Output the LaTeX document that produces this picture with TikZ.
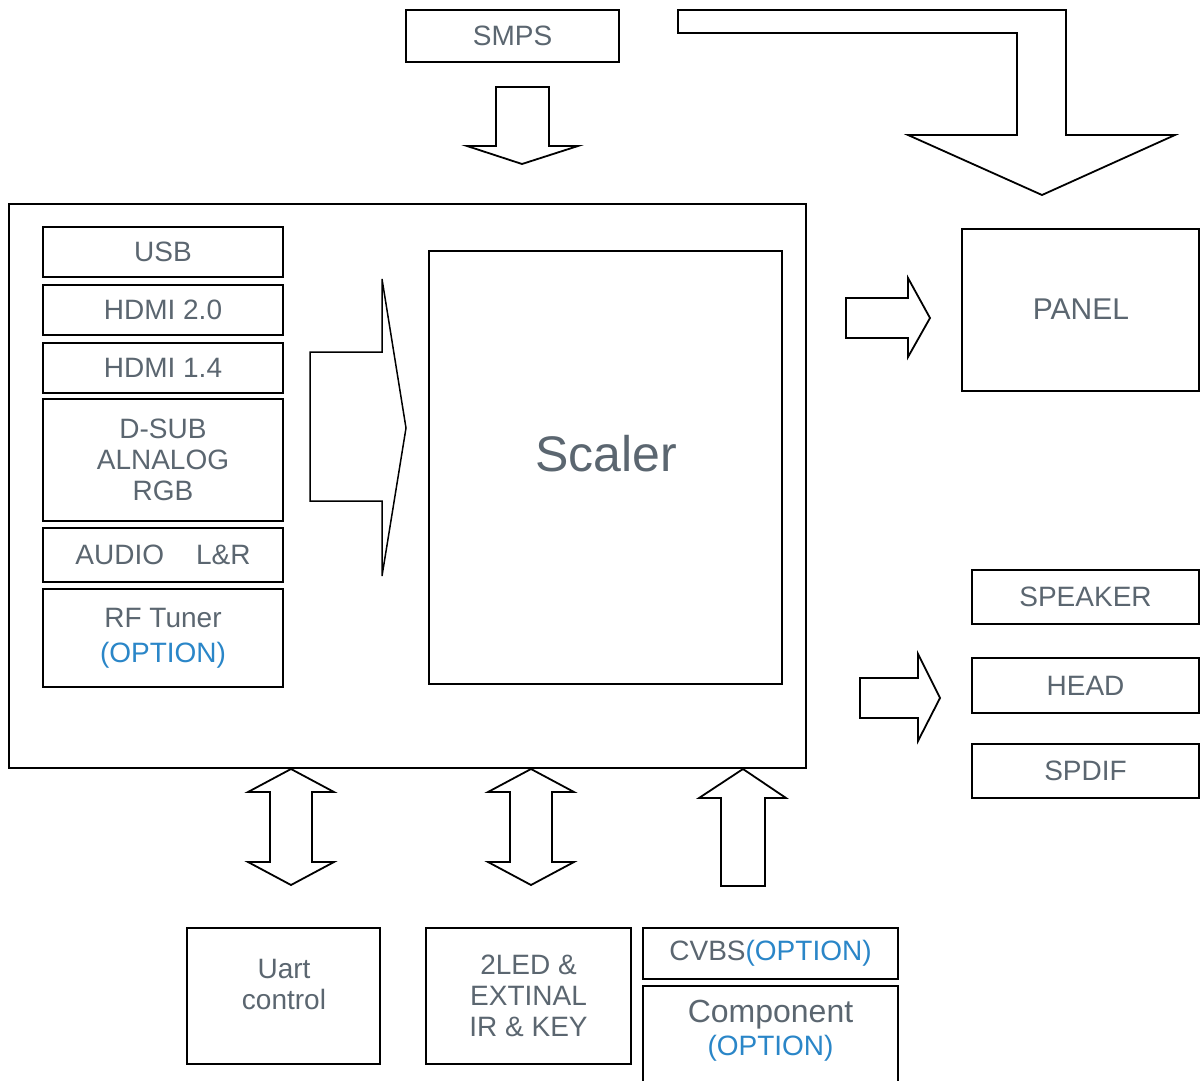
\documentclass[tikz,border=0pt]{standalone}
\usepackage{fontspec}
\setmainfont{Liberation Sans}
\definecolor{txt}{HTML}{5B6670}
\definecolor{opt}{HTML}{2A86C8}
\begin{document}
\begin{tikzpicture}[x=1pt,y=-1pt,
  box/.style={draw=black, line width=1.8pt, text=txt, align=center, inner sep=0pt,
    font=\fontsize{28}{31}\selectfont},
  lbl/.style={text=txt, align=center, inner sep=0pt, font=\fontsize{28}{31}\selectfont},
  barrow/.style={draw=black, line width=1.8pt, line join=miter, fill=white}]
\useasboundingbox[fill=white] (0,0) rectangle (1202,1081);

% top
\node[box, minimum width=213pt, minimum height=52pt] (smps) at (512.5,36) {SMPS};
\draw[barrow] (496,87) -- (549,87) -- (549,146) -- (578,146) -- (522,164) -- (467,146) -- (496,146) -- cycle;
\draw[barrow] (678,10) -- (1066,10) -- (1066,135) -- (1175,135) -- (1042,195) -- (908,135) -- (1017,135) -- (1017,33) -- (678,33) -- cycle;

% main board
\node[box, minimum width=797pt, minimum height=564pt] (board) at (407.5,486) {};
\node[box, minimum width=240pt, minimum height=50pt] (usb) at (163,252) {USB};
\node[box, minimum width=240pt, minimum height=50pt] (hdmia) at (163,310) {HDMI 2.0};
\node[box, minimum width=240pt, minimum height=50pt] (hdmib) at (163,368) {HDMI 1.4};
\node[box, minimum width=240pt, minimum height=122pt] (dsub) at (163,460) {D-SUB\\ALNALOG\\RGB};
\node[box, minimum width=240pt, minimum height=54pt] (audio) at (163,555) {AUDIO\hspace{32pt}L\&R};
\node[box, minimum width=240pt, minimum height=98pt, font=\fontsize{28}{35}\selectfont] (rf) at (163,638) {RF Tuner\\\textcolor{opt}{(OPTION)}};
\draw[barrow, line width=1.5pt] (310,352) -- (382,352) -- (382,279) -- (406,428) -- (382,576) -- (382,501) -- (310,501) -- cycle;
\node[box, minimum width=353pt, minimum height=433pt] (scaler) at (605.5,467.5) {};
\node[lbl, font=\fontsize{50}{55}\selectfont] (scalerlbl) at (606,454) {Scaler};

% right side
\draw[barrow] (846,298) -- (908,298) -- (908,278) -- (930,318) -- (908,357) -- (908,338) -- (846,338) -- cycle;
\node[box, minimum width=237pt, minimum height=162pt] (panel) at (1080.5,310) {};
\node[lbl, font=\fontsize{30}{33}\selectfont] (panellbl) at (1081,309) {PANEL};
\draw[barrow] (860,678) -- (918,678) -- (918,654) -- (940,698) -- (918,741) -- (918,718) -- (860,718) -- cycle;
\node[box, minimum width=227pt, minimum height=54pt] (speaker) at (1085.5,597) {SPEAKER};
\node[box, minimum width=227pt, minimum height=55pt] (head) at (1085.5,685.5) {HEAD};
\node[box, minimum width=227pt, minimum height=54pt] (spdif) at (1085.5,771) {SPDIF};

% bottom arrows
\draw[barrow] (291,769) -- (334,792) -- (312,792) -- (312,862) -- (334,862) -- (291,885) -- (248,862) -- (270,862) -- (270,792) -- (248,792) -- cycle;
\draw[barrow] (531,769) -- (574,792) -- (552,792) -- (552,862) -- (574,862) -- (531,885) -- (488,862) -- (510,862) -- (510,792) -- (488,792) -- cycle;
\draw[barrow] (743,769) -- (786,798) -- (765,798) -- (765,886) -- (721,886) -- (721,798) -- (699,798) -- cycle;

% bottom boxes
\node[box, minimum width=193pt, minimum height=136pt] (uart) at (283.5,996) {};
\node[lbl] (uartlbl) at (284,984.5) {Uart\\control};
\node[box, minimum width=205pt, minimum height=136pt] (led) at (528.5,996) {2LED \&\\EXTINAL\\IR \& KEY};
\node[box, minimum width=255pt, minimum height=51pt] (cvbs) at (770.5,953.5) {CVBS\textcolor{opt}{(OPTION)}};
\node[box, minimum width=255pt, minimum height=114pt] (comp) at (770.5,1043) {};
\node[lbl, font=\fontsize{28}{33}\selectfont] (complbl) at (770.5,1030.5) {{\fontsize{32}{33}\selectfont Component}\\\textcolor{opt}{(OPTION)}};
\end{tikzpicture}
\end{document}
